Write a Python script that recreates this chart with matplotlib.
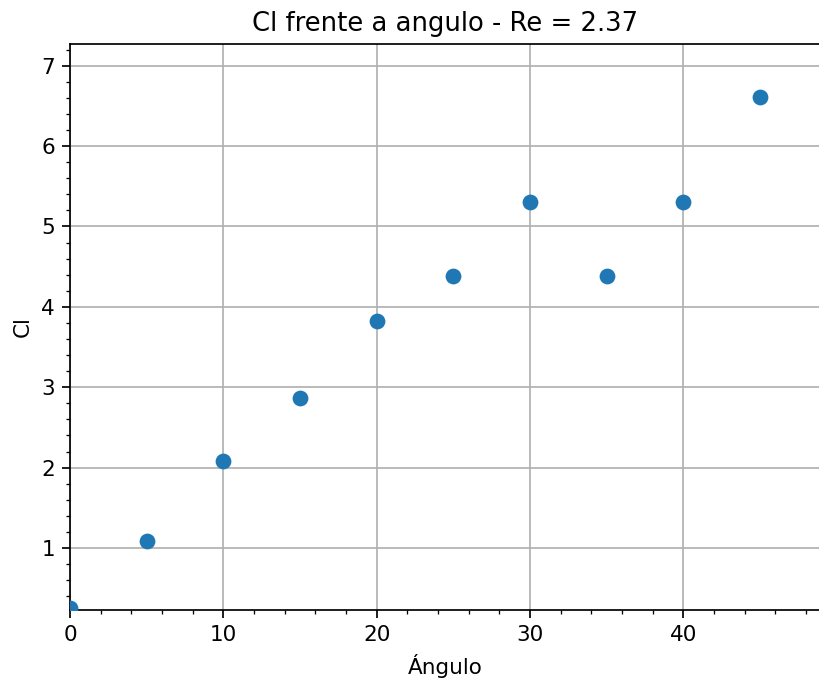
import numpy as np
import matplotlib.pyplot as plt
from matplotlib.ticker import MultipleLocator

angulo = [0, 5, 10, 15, 20, 25, 30, 35, 40, 45]
cl = [0.25, 1.09, 2.08, 2.87, 3.82, 4.38, 5.31, 4.38, 5.31, 6.61]

dpi = 155
fig = plt.figure(figsize=(819/dpi, 684/dpi), dpi=dpi)
ax = fig.add_axes([70/819, 74/684, 1.0 - 70/819 + 0.002, 566/684])

ax.scatter(angulo, cl, s=40, color='tab:blue', zorder=3)
ax.set_title('Cl frente a angulo - Re = 2.37')
ax.set_xlabel('Ángulo')
ax.set_ylabel('Cl')

ax.set_xlim(0, 48.95)
ax.set_ylim(0.228, 7.27)
ax.xaxis.set_minor_locator(MultipleLocator(2))
ax.yaxis.set_minor_locator(MultipleLocator(0.2))
ax.grid(True, which='major')
ax.set_axisbelow(True)

fig.savefig('out.png', dpi=dpi)
